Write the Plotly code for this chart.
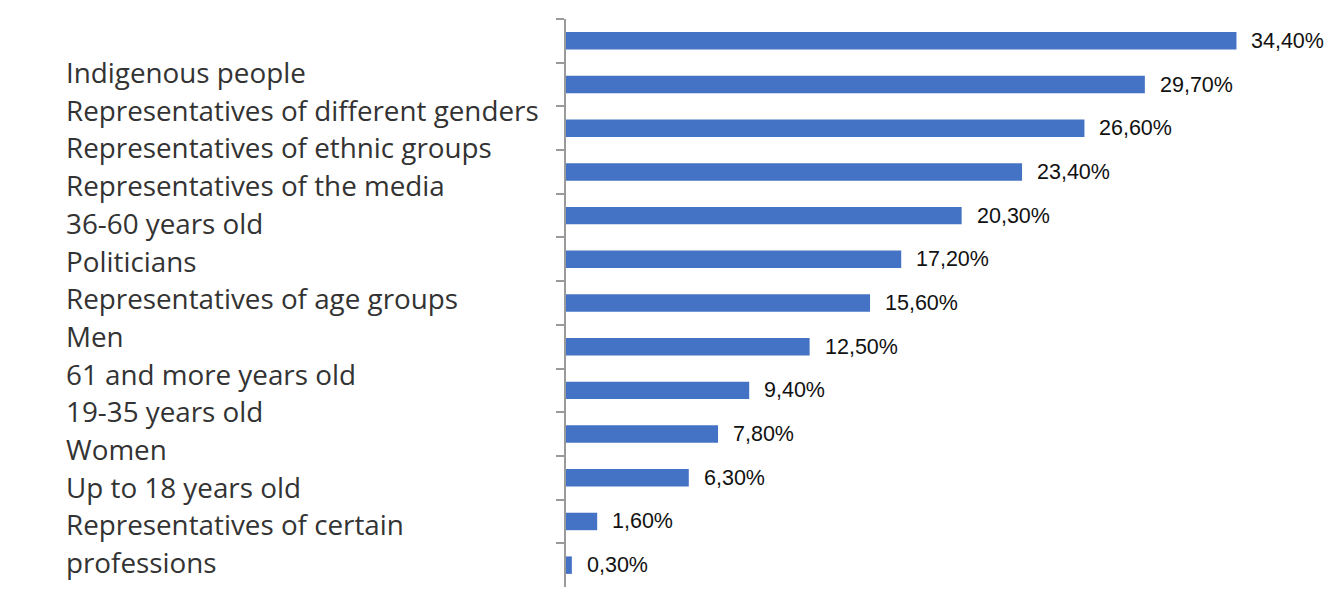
import plotly.graph_objects as go

# Survey shares, top to bottom
categories = [
    "Indigenous people",
    "Representatives of different genders",
    "Representatives of ethnic groups",
    "Representatives of the media",
    "36-60 years old",
    "Politicians",
    "Representatives of age groups",
    "Men",
    "61 and more years old",
    "19-35 years old",
    "Women",
    "Up to 18 years old",
    "Representatives of certain<br>professions",
]
values = [34.4, 29.7, 26.6, 23.4, 20.3, 17.2, 15.6, 12.5, 9.4, 7.8, 6.3, 1.6, 0.3]

W, H = 1332, 590
M_L, M_R, M_T, M_B = 566, 2, 19, 3
PLOT_H = H - M_T - M_B
PLOT_W = W - M_L - M_R

BAR = "#4472C4"
AXIS = "#9a9a9a"

ids = list(range(len(categories)))

fig = go.Figure(
    go.Bar(
        x=values,
        y=ids,
        orientation="h",
        marker=dict(color=BAR, line=dict(width=0)),
        hoverinfo="skip",
    )
)

# value labels just right of each bar end
for i, v in zip(ids, values):
    fig.add_annotation(
        x=v, y=i, xref="x", yref="y",
        text=f"{v:.2f}".replace(".", ",") + "%",
        showarrow=False, xanchor="left", yanchor="middle", xshift=13,
        font=dict(family="Liberation Sans, Arial, sans-serif", size=21.5, color="#111111"),
    )

# category list drawn as a text column on the left
lines = []
for c in categories:
    lines.extend(c.split("<br>"))
first_line_px, line_step_px = 72, 37.7
left_px = 64
for k, ln in enumerate(lines):
    py = first_line_px + k * line_step_px
    fig.add_annotation(
        x=(left_px - M_L) / PLOT_W, y=(H - M_B - py) / PLOT_H,
        xref="paper", yref="paper",
        text=ln, showarrow=False, xanchor="left", yanchor="middle",
        font=dict(family="Open Sans, Noto Sans, sans-serif", size=27.8, color="#333333"),
    )

fig.update_layout(
    width=W, height=H,
    margin=dict(l=M_L, r=M_R, t=M_T, b=M_B),
    paper_bgcolor="white", plot_bgcolor="white",
    bargap=0.6,
    showlegend=False,
    xaxis=dict(range=[0, 39.2], visible=False, fixedrange=True),
    yaxis=dict(
        type="category",
        autorange="reversed",
        showticklabels=False,
        showgrid=False,
        zeroline=False,
        showline=True, linecolor=AXIS, linewidth=2,
        ticks="outside", ticklen=8, tickcolor=AXIS, tickwidth=2,
        tickson="boundaries",
        fixedrange=True,
    ),
)

fig.write_html("out.html", config={"displayModeBar": False})
